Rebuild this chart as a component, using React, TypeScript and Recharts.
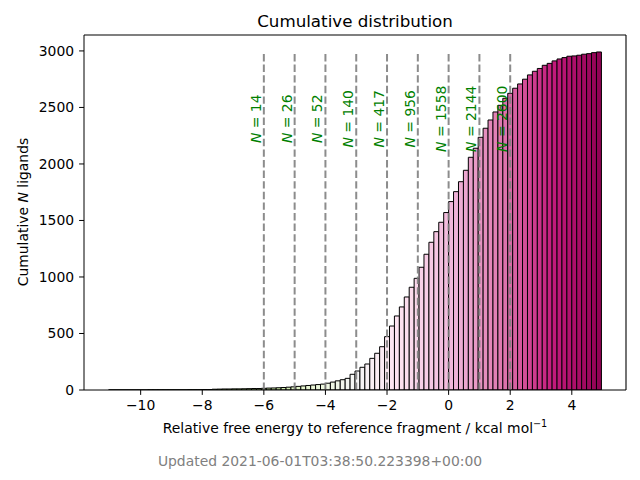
import { BarChart, Bar, XAxis, YAxis, Cell, ReferenceLine, ReferenceDot } from "recharts";

// histogram bins: 100 bins of 0.16 kcal/mol starting at -11.04
const BIN_START = -11.04;
const BIN_WIDTH = 0.16;

// cumulative ligand count per bin
const COUNTS = [
  1, 1, 1, 1, 1, 1, 1, 1, 2, 2,
  2, 2, 2, 2, 2, 2, 3, 3, 3, 4,
  4, 7, 8, 9, 9, 10, 10, 11, 12, 13,
  13, 15, 17, 18, 20, 22, 25, 28, 32, 36,
  40, 44, 48, 52, 60, 70, 81, 91, 103, 139,
  168, 201, 230, 280, 325, 383, 472, 566, 655, 735,
  823, 909, 988, 1086, 1201, 1307, 1401, 1484, 1570, 1667,
  1755, 1843, 1944, 2059, 2139, 2236, 2316, 2389, 2460, 2519,
  2581, 2625, 2670, 2708, 2750, 2788, 2820, 2845, 2873, 2890,
  2912, 2929, 2941, 2953, 2956, 2962, 2971, 2976, 2985, 2991,
];

const LINE_X = [-6, -5, -4, -3, -2, -1, 0, 1, 2];
const LINE_N = [14, 26, 52, 140, 417, 956, 1558, 2144, 2600];
const LINE_TOP = 3000;
const LABEL_Y = 2400;

const X_TICKS = [-10, -8, -6, -4, -2, 0, 2, 4];
const Y_TICKS = [0, 500, 1000, 1500, 2000, 2500, 3000];
const X_MIN = -11.84;
const X_MAX = 5.76;
const Y_MAX = 3141;

// matplotlib PiYG stops, used reversed
const PIYG = [
  "#8e0152", "#c51b7d", "#de77ae", "#f1b6da", "#fde0ef", "#f7f7f7",
  "#e6f5d0", "#b8e186", "#7fbc41", "#4d9221", "#276419",
];

function hexToRgb(h: string) {
  return [1, 3, 5].map(i => parseInt(h.slice(i, i + 2), 16));
}

function piygR(t: number) {
  const u = (1 - t) * (PIYG.length - 1);
  const i = Math.min(Math.floor(u), PIYG.length - 2);
  const f = u - i;
  const a = hexToRgb(PIYG[i]);
  const b = hexToRgb(PIYG[i + 1]);
  const c = a.map((v, j) => Math.round(v + (b[j] - v) * f));
  return `rgb(${c[0]},${c[1]},${c[2]})`;
}

const data = COUNTS.map((n, k) => ({ x: BIN_START + BIN_WIDTH * (k + 0.5), n }));
const colors = COUNTS.map((_, k) => piygR((k + 0.5) / COUNTS.length));

const FONT = "'DejaVu Sans', sans-serif";
const minus = (v: number) => String(v).replace("-", "\u2212");

const NLabel = (n: number) => (props: any) => {
  const vb = props.viewBox || {};
  const cx = vb.x - 8;
  const cy = vb.y;
  return (
    <text
      x={cx}
      y={cy}
      transform={`rotate(-90 ${cx} ${cy})`}
      textAnchor="middle"
      dominantBaseline="central"
      fill="#008000"
      fontSize={13.9}
      fontFamily={FONT}
    >
      <tspan fontStyle="italic">N</tspan> = {n}
    </text>
  );
};

export default function App() {
  return (
    <div style={{ position: "absolute", left: 0, top: 0, width: 640, height: 480, background: "#fff" }}>
      <BarChart
        width={640}
        height={480}
        data={data}
        margin={{ top: 35, right: 14, bottom: 0, left: 0 }}
        barCategoryGap={0}
        barGap={0}
      >
        <XAxis
          type="number"
          dataKey="x"
          domain={[X_MIN, X_MAX]}
          ticks={X_TICKS}
          interval={0}
          allowDataOverflow
          height={90}
          stroke="#000"
          tickSize={4.9}
          tickMargin={5}
          tick={{ fill: "#000", fontSize: 13.9, fontFamily: FONT }}
          tickFormatter={minus}
        />
        <YAxis
          type="number"
          domain={[0, Y_MAX]}
          ticks={Y_TICKS}
          interval={0}
          allowDataOverflow
          width={84}
          stroke="#000"
          tickSize={4.9}
          tickMargin={5}
          tick={{ fill: "#000", fontSize: 13.9, fontFamily: FONT }}
        />
        <Bar dataKey="n" isAnimationActive={false} stroke="#000" strokeWidth={1}>
          {data.map((d, i) => (
            <Cell key={i} fill={colors[i]} />
          ))}
        </Bar>
        {LINE_X.map(x => (
          <ReferenceLine
            key={"l" + x}
            segment={[{ x, y: 0 }, { x, y: LINE_TOP }]}
            stroke="#808080"
            strokeOpacity={0.9}
            strokeWidth={2}
            strokeDasharray="7.4 3.2"
          />
        ))}
        {LINE_X.map((x, i) => (
          <ReferenceDot
            key={"t" + x}
            x={x}
            y={LABEL_Y}
            r={0}
            fill="none"
            stroke="none"
            label={NLabel(LINE_N[i])}
          />
        ))}
        <ReferenceLine y={Y_MAX} stroke="#000" strokeWidth={1.1} />
        <ReferenceLine x={X_MAX} stroke="#000" strokeWidth={1.1} />
      </BarChart>
      <svg
        width={640}
        height={480}
        style={{ position: "absolute", left: 0, top: 0, pointerEvents: "none" }}
        fontFamily={FONT}
      >
        <text x={355} y={27} textAnchor="middle" fontSize={16.7} fill="#000">
          Cumulative distribution
        </text>
        <text
          x={23}
          y={212}
          transform="rotate(-90 23 212)"
          textAnchor="middle"
          dominantBaseline="central"
          fontSize={13.9}
          fill="#000"
        >
          Cumulative <tspan fontStyle="italic">N</tspan> ligands
        </text>
        <text x={355} y={433} textAnchor="middle" fontSize={13.9} fill="#000">
          Relative free energy to reference fragment / kcal mol
          <tspan fontSize={9.7} dy={-6}>{"\u22121"}</tspan>
        </text>
        <text x={320} y={466} textAnchor="middle" fontSize={13.9} fill="#808080">
          Updated 2021-06-01T03:38:50.223398+00:00
        </text>
      </svg>
    </div>
  );
}
